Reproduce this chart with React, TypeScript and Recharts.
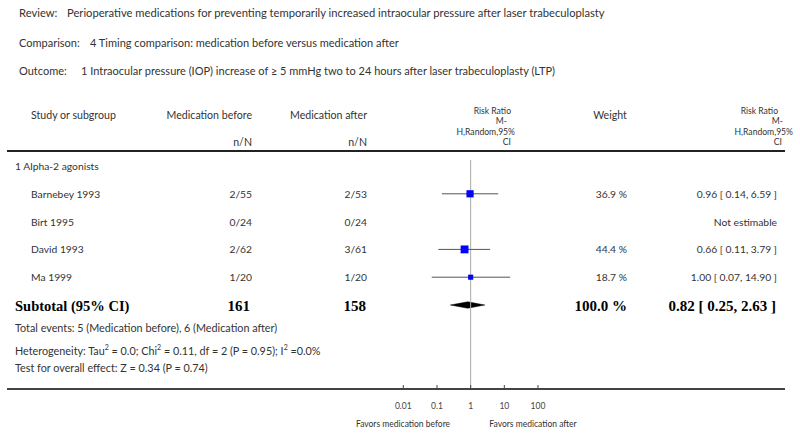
import React from "react";
import {
  Area,
  ComposedChart,
  ErrorBar,
  ReferenceLine,
  Scatter,
  XAxis,
  YAxis,
} from "recharts";

// study data (Alpha-2 agonists subgroup)
const studies = ["Barnebey 1993", "Birt 1995", "David 1993", "Ma 1999"];
const eventsBefore = [2, 0, 2, 1];
const totalBefore = [55, 24, 62, 20];
const eventsAfter = [2, 0, 3, 1];
const totalAfter = [53, 24, 61, 20];
const riskRatio = [0.96, null, 0.66, 1.0];
const ciLow = [0.14, null, 0.11, 0.07];
const ciHigh = [6.59, null, 3.79, 14.9];
const weights = [36.9, null, 44.4, 18.7];

// pooled estimate
const pooledRR = 0.82;
const pooledLow = 0.25;
const pooledHigh = 2.63;
const pooledWeight = 100.0;

const axisTicks = [0.01, 0.1, 1, 10, 100];
const tickLabels = ["0.01", "0.1", "1", "10", "100"];
const rrHeader = ["Risk Ratio", "M-", "H,Random,95%", "CI"];

// layout
const W = 800;
const H = 437;
const ROW0 = 166;
const ROW_H = 27.8;
const PLOT_TOP = 160;
const AXIS_Y = 389;
const PLOT_LEFT = 403.3;
const PLOT_RIGHT = 538;
const SUBTOTAL_ROW = 5;
const DIAMOND_HALF = 3.2 / ROW_H;
const FONT = "Lato, 'Open Sans', sans-serif";
const SERIF = "'Liberation Serif', 'DejaVu Serif', serif";
const TEXT = "#333";

const rowY = (r: number) => ROW0 + r * ROW_H;

const pointData = studies
  .map((s, i) =>
    riskRatio[i] == null
      ? null
      : {
          name: s,
          x: riskRatio[i] as number,
          y: i + 1,
          w: weights[i] as number,
          err: [
            (riskRatio[i] as number) - (ciLow[i] as number),
            (ciHigh[i] as number) - (riskRatio[i] as number),
          ],
        }
  )
  .filter(Boolean) as any[];

const diamondData = [
  { x: pooledLow, band: [SUBTOTAL_ROW, SUBTOTAL_ROW] },
  { x: pooledRR, band: [SUBTOTAL_ROW - DIAMOND_HALF, SUBTOTAL_ROW + DIAMOND_HALF] },
  { x: pooledHigh, band: [SUBTOTAL_ROW, SUBTOTAL_ROW] },
];

const fmt2 = (v: number) => v.toFixed(2);
const sum = (a: number[]) => a.reduce((s, v) => s + v, 0);

type TxtProps = {
  x: number;
  y: number;
  align?: "left" | "right" | "center";
  size?: number;
  bold?: boolean;
  serif?: boolean;
  color?: string;
  children: React.ReactNode;
};

function Txt({ x, y, align = "left", size = 10.3, bold, serif, color = TEXT, children }: TxtProps) {
  const w = 760;
  const left = align === "left" ? x : align === "right" ? x - w : x - w / 2;
  const h = Math.round(size * 1.2);
  return (
    <div
      style={{
        position: "absolute",
        left,
        top: y - h / 2,
        width: w,
        height: h,
        lineHeight: `${h}px`,
        textAlign: align,
        fontSize: size,
        fontFamily: serif ? SERIF : FONT,
        fontWeight: bold ? 700 : 400,
        color,
        whiteSpace: "nowrap",
      }}
    >
      {children}
    </div>
  );
}

// stacked "Risk Ratio / M- / H,Random,95% / CI" header
function StackHeader({ right, offsets }: { right: number; offsets: number[] }) {
  const lh = 10.4;
  return (
    <div
      style={{
        position: "absolute",
        left: right - 200,
        top: 111 - lh / 2,
        width: 200,
        textAlign: "right",
        fontFamily: FONT,
        fontSize: 8.6,
        lineHeight: `${lh}px`,
        color: TEXT,
        whiteSpace: "nowrap",
      }}
    >
      {rrHeader.map((t, i) => (
        <div key={t} style={{ marginRight: -offsets[i] }}>
          {t}
        </div>
      ))}
    </div>
  );
}

const BlueSquare = (p: any) => {
  const s = 1.18 * Math.sqrt(p.payload.w);
  return (
    <g>
      <rect x={p.cx - s / 2} y={p.cy - s / 2} width={s} height={s} fill="#0000ff" />
      <line x1={p.cx - s / 2} x2={p.cx + s / 2} y1={p.cy} y2={p.cy} stroke="#333" strokeWidth={0.6} />
    </g>
  );
};

const LogTick = (p: any) => {
  const { x, y, index } = p;
  return (
    <g>
      <line x1={x} x2={x} y1={y} y2={y - 4} stroke="#444" strokeWidth={1} />
      <text x={x} y={y + 20} textAnchor="middle" fontSize={8.5} fill="#444" fontFamily={FONT}>
        {tickLabels[index]}
      </text>
    </g>
  );
};

const SUP = { fontSize: 7 };

export default function App() {
  return (
    <div style={{ position: "absolute", left: 0, top: 0, width: W, height: H, background: "#fff" }}>
      <div style={{ position: "absolute", left: 0, top: 0 }}>
        <ComposedChart
          width={W}
          height={H}
          margin={{ top: PLOT_TOP, left: PLOT_LEFT, right: W - PLOT_RIGHT, bottom: H - AXIS_Y - 30 }}
        >
          <XAxis
            dataKey="x"
            type="number"
            scale="log"
            domain={[0.01, 100]}
            ticks={axisTicks}
            allowDataOverflow
            axisLine={false}
            tickLine={false}
            tickSize={0}
            tickMargin={0}
            height={30}
            interval={0}
            tick={<LogTick />}
          />
          <YAxis
            dataKey="y"
            type="number"
            domain={[(PLOT_TOP - ROW0) / ROW_H, (AXIS_Y - ROW0) / ROW_H]}
            reversed
            allowDataOverflow
            hide
            width={0}
          />
          <ReferenceLine x={1} stroke="#aaa" strokeWidth={1} />
          <Scatter data={pointData} shape={<BlueSquare />} isAnimationActive={false}>
            <ErrorBar dataKey="err" direction="x" width={0} stroke="#555" strokeWidth={1} isAnimationActive={false} />
          </Scatter>
          <Area
            data={diamondData}
            dataKey="band"
            type="linear"
            stroke="#000"
            strokeWidth={0.5}
            fill="#000"
            fillOpacity={1}
            dot={false}
            activeDot={false}
            isAnimationActive={false}
          />
        </ComposedChart>
      </div>

      {/* header block */}
      <Txt x={19} y={12} size={11.2}>Review:</Txt>
      <Txt x={67} y={12} size={11.2}>
        Perioperative medications for preventing temporarily increased intraocular pressure after laser trabeculoplasty
      </Txt>
      <Txt x={19} y={42} size={11}>Comparison:</Txt>
      <Txt x={90} y={42} size={11}>4 Timing comparison: medication before versus medication after</Txt>
      <Txt x={19} y={70} size={11}>Outcome:</Txt>
      <Txt x={81} y={70} size={11}>
        1 Intraocular pressure (IOP) increase of ≥ 5 mmHg two to 24 hours after laser trabeculoplasty (LTP)
      </Txt>

      {/* column headers */}
      <Txt x={31} y={115} size={10.6}>Study or subgroup</Txt>
      <Txt x={252} y={115} align="right" size={10.6}>Medication before</Txt>
      <Txt x={252} y={142} align="right" size={10.6}>n/N</Txt>
      <Txt x={367} y={115} align="right" size={10.6}>Medication after</Txt>
      <Txt x={367} y={142} align="right" size={10.6}>n/N</Txt>
      <StackHeader right={511} offsets={[0, -4, 4, 0]} />
      <Txt x={610} y={115} align="center" size={10.6}>Weight</Txt>
      <StackHeader right={778} offsets={[0, 5, 15, 4]} />
      <div style={{ position: "absolute", left: 7, top: 150, width: 778, height: 2, background: "#222" }} />

      {/* rows */}
      <Txt x={15} y={rowY(0)}>1 Alpha-2 agonists</Txt>
      {studies.map((s, i) => (
        <React.Fragment key={s}>
          <Txt x={31} y={rowY(i + 1)}>{s}</Txt>
          <Txt x={252} y={rowY(i + 1)} align="right">{`${eventsBefore[i]}/${totalBefore[i]}`}</Txt>
          <Txt x={367} y={rowY(i + 1)} align="right">{`${eventsAfter[i]}/${totalAfter[i]}`}</Txt>
          {weights[i] != null && (
            <Txt x={627} y={rowY(i + 1)} align="right">{`${(weights[i] as number).toFixed(1)} %`}</Txt>
          )}
          <Txt x={777} y={rowY(i + 1)} align="right">
            {riskRatio[i] == null
              ? "Not estimable"
              : `${fmt2(riskRatio[i] as number)} [ ${fmt2(ciLow[i] as number)}, ${fmt2(ciHigh[i] as number)} ]`}
          </Txt>
        </React.Fragment>
      ))}

      {/* subtotal */}
      <Txt x={15} y={rowY(SUBTOTAL_ROW) + 1} size={14.5} bold serif color="#000">Subtotal (95% CI)</Txt>
      <Txt x={250} y={rowY(SUBTOTAL_ROW) + 1} size={15} bold serif color="#000" align="right">{sum(totalBefore)}</Txt>
      <Txt x={366} y={rowY(SUBTOTAL_ROW) + 1} size={15} bold serif color="#000" align="right">{sum(totalAfter)}</Txt>
      <Txt x={627} y={rowY(SUBTOTAL_ROW) + 1} size={15} bold serif color="#000" align="right">{`${pooledWeight.toFixed(1)} %`}</Txt>
      <Txt x={776} y={rowY(SUBTOTAL_ROW) + 1} size={15} bold serif color="#000" align="right">
        {`${fmt2(pooledRR)} [ ${fmt2(pooledLow)}, ${fmt2(pooledHigh)} ]`}
      </Txt>

      {/* footnotes */}
      <Txt x={15} y={327} size={10.8}>{`Total events: ${sum(eventsBefore)} (Medication before), ${sum(eventsAfter)} (Medication after)`}</Txt>
      <Txt x={15} y={347} size={10.8}>
        Heterogeneity: Tau<sup style={SUP}>2</sup> = 0.0; Chi<sup style={SUP}>2</sup> = 0.11, df = 2 (P = 0.95); I
        <sup style={SUP}>2</sup> =0.0%
      </Txt>
      <Txt x={15} y={367} size={10.8}>Test for overall effect: Z = 0.34 (P = 0.74)</Txt>

      {/* axis */}
      <div style={{ position: "absolute", left: 7, top: AXIS_Y - 1, width: 778, height: 1.5, background: "#444" }} />
      <Txt x={403} y={424} size={8.5} align="center">Favors medication before</Txt>
      <Txt x={533} y={424} size={8.5} align="center">Favors medication after</Txt>
    </div>
  );
}
